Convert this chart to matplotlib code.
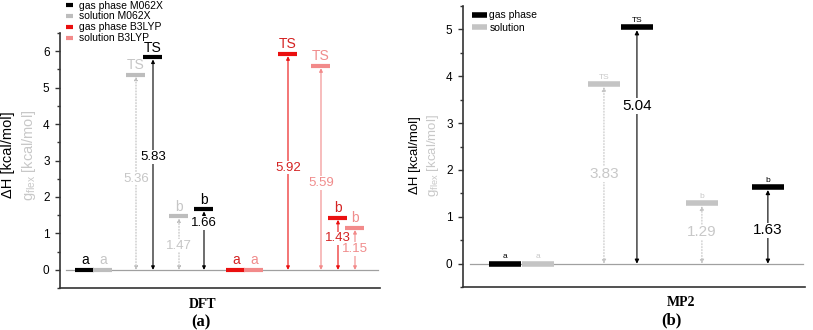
import matplotlib.pyplot as plt
from matplotlib.lines import Line2D

plt.rcParams["font.family"] = ["Liberation Sans", "DejaVu Sans"]
plt.rcParams["mathtext.default"] = "regular"

# states along each profile
states = ["a", "TS", "b"]

# DFT (a)
m062x_gas = [0.0, 5.83, 1.66]
m062x_sol = [0.0, 5.36, 1.47]
b3lyp_gas = [0.0, 5.92, 1.43]
b3lyp_sol = [0.0, 5.59, 1.15]

# MP2 (b)
mp2_gas = [0.0, 5.04, 1.63]
mp2_sol = [0.0, 3.83, 1.29]

# layout: x slot of each state and height where the value label sits
dft_series = [
    ("gas phase M062X", m062x_gas, [25, 93, 144], [None, 3.1, 1.29], "#000000", "#000000", "-"),
    ("solution M062X", m062x_sol, [43, 76, 119], [None, 2.5, 0.66], "#bdbdbd", "#c6c6c6", ":"),
    ("gas phase B3LYP", b3lyp_gas, [176, 228, 278], [None, 2.8, 0.87], "#ea0f0f", "#d42222", "-"),
    ("solution B3LYP", b3lyp_sol, [194, 261, 295], [None, 2.38, 0.57], "#f28a8a", "#f08c8c", "-"),
]
mp2_series = [
    ("gas phase", mp2_gas, [42, 174, 305], [None, 3.37, 0.71], "#000000", "#000000", "-"),
    ("solution", mp2_sol, [75, 141, 239], [None, 1.91, 0.67], "#c4c4c4", "#c8c8c8", ":"),
]


def style_axes(ax, ylim, xmax):
    ax.set_xlim(0, xmax)
    ax.set_ylim(*ylim)
    for s in ["top", "right"]:
        ax.spines[s].set_visible(False)
    for s in ["left", "bottom"]:
        ax.spines[s].set_color("#333333")
        ax.spines[s].set_linewidth(1.2)
    ax.set_xticks([])
    ax.set_yticks(range(0, int(ylim[1]) + 1))
    ax.set_yticks([i + 0.5 for i in range(-1, int(ylim[1]) + 1)], minor=True)
    ax.tick_params(axis="y", which="major", length=3.5, width=1, pad=4,
                   labelsize=8.5, colors="#333333", labelcolor="black")
    ax.tick_params(axis="y", which="minor", length=2, width=1, colors="#333333")
    ax.axhline(0, xmin=0.02, xmax=0.995, color="#a0a0a0", lw=0.9, zorder=1)


def draw_levels(ax, series, width, lw, state_fs, val_fs, head):
    handles = []
    for name, vals, xs, ly, c, tc, ls in series:
        for st, v, x, y in zip(states, vals, xs, ly):
            ax.hlines(v, x - width / 2, x + width / 2, color=c, lw=lw, zorder=3,
                      capstyle="butt")
            ax.annotate(st, (x, v), xytext=(0, lw / 2 + 0.5), textcoords="offset points",
                        ha="center", va="bottom", fontsize=state_fs, color=tc)
            if v > 0:
                ax.annotate("", xy=(x, v), xytext=(x, 0),
                            arrowprops=dict(arrowstyle="<|-|>", color=c, lw=0.8, ls=ls,
                                            shrinkA=0, shrinkB=lw / 2,
                                            mutation_scale=head),
                            zorder=2)
                ax.text(x, y, f"{v:.2f}", ha="center", va="center", fontsize=val_fs,
                        color=tc, zorder=4,
                        bbox=dict(facecolor="white", edgecolor="none", pad=0.5))
        handles.append(Line2D([], [], color=c, lw=lw, solid_capstyle="butt", label=name))
    return handles


fig = plt.figure(figsize=(8.13, 3.3), dpi=100)

ax1 = fig.add_axes([0.0738, 0.127, 0.3936, 0.773])
style_axes(ax1, (-0.5, 6.5), 320)
h1 = draw_levels(ax1, dft_series, 19, 3, 10, 9.5, 5)
fig.legend(handles=h1, loc="upper left", bbox_to_anchor=(0.081, 0.998), frameon=False,
           fontsize=7.5, handlelength=0.7, handletextpad=0.6, labelspacing=0.08,
           borderpad=0, borderaxespad=0)

ax2 = fig.add_axes([0.5695, 0.130, 0.4205, 0.852])
style_axes(ax2, (-0.5, 5.5), 342)
h2 = draw_levels(ax2, mp2_series, 32, 4, 6, 11, 6)
ax2.legend(handles=h2, loc="upper left", bbox_to_anchor=(0.025, 0.985), frameon=False,
           fontsize=7.5, handlelength=1.5, handletextpad=0.2, labelspacing=0.25,
           borderpad=0, borderaxespad=0)

# y labels (two stacked lines)
fig.text(0.010, 0.53, "ΔH [kcal/mol]", rotation=90, ha="center", va="center",
         fontsize=10.5, color="black")
fig.text(0.036, 0.53, r"$\mathregular{g_{flex}}$ [kcal/mol]", rotation=90, ha="center",
         va="center", fontsize=10.5, color="#c8c8c8")
fig.text(0.511, 0.53, "ΔH [kcal/mol]", rotation=90, ha="center", va="center",
         fontsize=9.5, color="black")
fig.text(0.533, 0.53, r"$\mathregular{g_{flex}}$ [kcal/mol]", rotation=90, ha="center",
         va="center", fontsize=9.5, color="#c8c8c8")

# panel titles below
serif = ["Liberation Serif", "DejaVu Serif"]
fig.text(203 / 813, 1 - 304 / 330, "DFT", ha="center", va="center", fontsize=10,
         fontweight="bold", family=serif)
fig.text(201 / 813, 1 - 322 / 330, "(a)", ha="center", va="center", fontsize=12,
         fontweight="bold", family=serif)
fig.text(681 / 813, 1 - 302 / 330, "MP2", ha="center", va="center", fontsize=10,
         fontweight="bold", family=serif)
fig.text(671 / 813, 1 - 320 / 330, "(b)", ha="center", va="center", fontsize=12,
         fontweight="bold", family=serif)

fig.savefig("out.png", dpi=100)
